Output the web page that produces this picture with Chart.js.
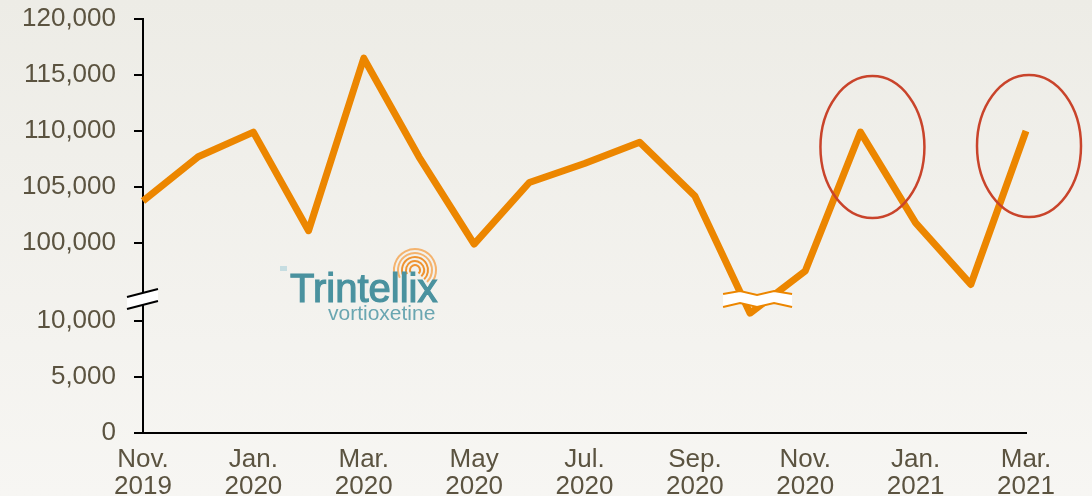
<!DOCTYPE html>
<html>
<head>
<meta charset="utf-8">
<script src="https://cdn.jsdelivr.net/npm/chart.js@4/dist/chart.umd.min.js"></script>
<style>
	html, body { margin: 0; padding: 0; }
	body {
		width: 1092px; height: 496px; overflow: hidden;
		background: linear-gradient(#edece6, #f7f6f3);
	}
	canvas { display: block; }
</style>
</head>
<body>
<canvas id="trend" width="1092" height="496"></canvas>
<script>
// months on the x axis (only every second one is labelled)
const months = [
	['Nov.', '2019'], ['Dec.', '2019'], ['Jan.', '2020'], ['Feb.', '2020'],
	['Mar.', '2020'], ['Apr.', '2020'], ['May', '2020'], ['Jun.', '2020'],
	['Jul.', '2020'], ['Aug.', '2020'], ['Sep.', '2020'], ['Oct.', '2020'],
	['Nov.', '2020'], ['Dec.', '2020'], ['Jan.', '2021'], ['Feb.', '2021'],
	['Mar.', '2021'],
];
const prescriptions = [
	103750, 107700, 109900, 101100, 116500, 107700, 99900, 105400,
	107100, 109000, 104200, 10700, 97500, 109900, 101800, 96300, 110000,
];
const yTickValues = [0, 5000, 10000, 100000, 105000, 110000, 115000, 120000];
const yTickLabels = ['0', '5,000', '10,000', '100,000', '105,000', '110,000', '115,000', '120,000'];
const circledMonths = [13, 16];

// broken axis: values above the break are shifted down onto one linear scale
const BREAK_LOW = 10000;
const BREAK_HIGH = 100000;
const BREAK_GAP = 6964;
function toAxis(v) {
	return v < 50000 ? v : v - BREAK_HIGH + BREAK_LOW + BREAK_GAP;
}

const TEXT = '#5b5340';
const ORANGE = '#ec8600';
const FONT = '"Liberation Sans", Arial, sans-serif';

const decorations = {
	id: 'decorations',
	afterDatasetsDraw(chart) {
		const ctx = chart.ctx;
		const x = chart.scales.x;
		const y = chart.scales.y;
		ctx.save();

		// break on the y axis
		ctx.fillStyle = '#ffffff';
		ctx.beginPath();
		ctx.moveTo(127, 297); ctx.lineTo(158, 289);
		ctx.lineTo(158, 301); ctx.lineTo(127, 309);
		ctx.closePath(); ctx.fill();
		ctx.strokeStyle = '#000'; ctx.lineWidth = 2;
		ctx.beginPath();
		ctx.moveTo(127, 297); ctx.lineTo(158, 289);
		ctx.moveTo(127, 309); ctx.lineTo(158, 301);
		ctx.stroke();

		// break on the line near Oct. 2020
		const bx = x.getPixelForValue(11);
		const top = [[-27, 294], [-10, 291], [7, 295], [24, 291], [42, 294]];
		const bot = [[42, 307], [24, 303], [7, 307], [-10, 303], [-27, 307]];
		ctx.fillStyle = '#ffffff';
		ctx.beginPath();
		top.concat(bot).forEach(([dx, py], i) => i ? ctx.lineTo(bx + dx, py) : ctx.moveTo(bx + dx, py));
		ctx.closePath(); ctx.fill();
		ctx.strokeStyle = ORANGE; ctx.lineWidth = 2;
		[top, bot].forEach(edge => {
			ctx.beginPath();
			edge.forEach(([dx, py], i) => i ? ctx.lineTo(bx + dx, py) : ctx.moveTo(bx + dx, py));
			ctx.stroke();
		});

		// red circles round the highlighted months
		ctx.strokeStyle = '#c9442b'; ctx.lineWidth = 2.5;
		circledMonths.forEach((m, i) => {
			const px = x.getPixelForValue(m) + (i ? 3 : 12);
			const py = y.getPixelForValue(toAxis(prescriptions[m])) + 15;
			ctx.beginPath();
			ctx.ellipse(px, py, 52, 71, 0, 0, Math.PI * 2);
			ctx.stroke();
		});

		// product logo
		const lx = 415, ly = 270;
		for (let r = 5; r <= 22; r += 4) {
			ctx.strokeStyle = r < 15 ? '#ef9330' : '#f4b36e';
			ctx.lineWidth = 2;
			ctx.beginPath();
			ctx.arc(lx, ly, r, Math.PI * 0.85, Math.PI * 2.25);
			ctx.stroke();
		}
		ctx.fillStyle = '#4a929f';
		ctx.strokeStyle = '#4a929f';
		ctx.lineWidth = 1.2;
		ctx.font = '40px ' + FONT;
		ctx.textBaseline = 'alphabetic';
		ctx.fillText('Trintellix', 290, 302);
		ctx.strokeText('Trintellix', 290, 302);
		ctx.fillStyle = '#c6dde1';
		ctx.fillRect(280, 266, 7, 5);
		ctx.fillStyle = '#6aa6b1';
		ctx.font = '21px ' + FONT;
		ctx.fillText('vortioxetine', 328, 320);
		ctx.restore();
	}
};

new Chart('trend', {
	type: 'line',
	data: {
		labels: months,
		datasets: [{
			data: prescriptions.map(toAxis),
			borderColor: ORANGE,
			borderWidth: 7,
			borderJoinStyle: 'round',
			pointRadius: 0,
			tension: 0,
		}],
	},
	options: {
		responsive: false,
		devicePixelRatio: 1,
		animation: false,
		layout: { padding: { top: 19, right: 66, bottom: 0, left: 0 } },
		plugins: { legend: { display: false }, tooltip: { enabled: false } },
		scales: {
			x: {
				offset: false,
				afterFit(scale) {
					scale.height = 63;
					scale.paddingLeft = 0;
					scale.paddingRight = 0;
				},
				grid: { display: false },
				border: { display: true, color: '#000', width: 2 },
				ticks: {
					autoSkip: false,
					maxRotation: 0,
					padding: 5,
					color: TEXT,
					font: { family: FONT, size: 26, lineHeight: 1.05 },
					callback: (v, i) => i % 2 === 0 ? months[i] : '',
				},
			},
			y: {
				min: 0,
				max: toAxis(120000),
				afterFit(scale) {
					scale.width = 143;
					scale.paddingTop = 0;
					scale.paddingBottom = 0;
				},
				afterBuildTicks(scale) {
					scale.ticks = yTickValues.map(v => ({ value: toAxis(v) }));
				},
				grid: { drawOnChartArea: false, color: '#000', lineWidth: 2, tickLength: 9 },
				border: { display: true, color: '#000', width: 2 },
				ticks: {
					padding: 18,
					color: TEXT,
					font: { family: FONT, size: 26 },
					callback: (v, i) => yTickLabels[i],
				},
			},
		},
	},
	plugins: [decorations],
});
</script>
</body>
</html>
